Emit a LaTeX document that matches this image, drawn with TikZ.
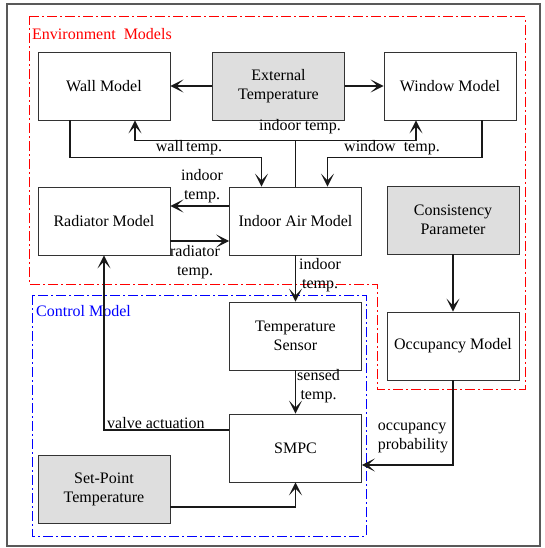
\documentclass[tikz,border=0pt]{standalone}
\usepackage{fontspec}
\setmainfont{Liberation Serif}
\usetikzlibrary{arrows.meta,calc}
\begin{document}
\begin{tikzpicture}[x=1pt,y=-1pt,
  every node/.style={font=\fontsize{16}{19}\selectfont},
  box/.style={draw=black!80, line width=0.9pt, minimum width=132pt, minimum height=68pt, align=center, inner sep=0pt},
  gbox/.style={box, fill=black!13},
  conn/.style={line width=1.1pt, draw=black!90, -{Stealth[length=13pt,width=13pt,inset=7pt]}},
  plain/.style={line width=1.1pt, draw=black!90},
  lbl/.style={align=left, inner sep=0pt},
  dd/.style={line width=1pt, dash pattern=on 10pt off 3pt on 2pt off 3pt}]
\useasboundingbox (0,0) rectangle (544,548);
\draw[black!65, line width=1.4pt] (7,4) rectangle (540,546);
\draw[dd, red] (29,17) -- (525,17) -- (525,389) -- (377,389) -- (377,284) -- (29,284) -- cycle;
\draw[dd, blue] (32,295) rectangle (366,536);
\node[red, anchor=west, inner sep=0pt] (envl) at (32,34) {Environment\ \ Models};
\node[blue, anchor=west, inner sep=0pt] (ctrl) at (36,311) {Control Model};

\node[box]  (wall) at (104,86) {Wall Model};
\node[gbox] (ext)  at (278.5,86) {External\\Temperature};
\node[box]  (win)  at (450,86) {Window Model};
\node[box]  (rad)  at (104,221) {Radiator Model};
\node[box]  (air)  at (295.5,221) {Indoor Air Model};
\node[gbox] (cons) at (453,220) {Consistency\\Parameter};
\node[box]  (sens) at (295.5,336) {Temperature\\Sensor};
\node[box]  (occ)  at (453,346) {Occupancy Model};
\node[box]  (smpc) at (295.5,448) {SMPC};
\node[gbox] (sp)   at (104,489) {Set-Point\\Temperature};

\draw[conn] (ext.west) -- (wall.east);
\draw[conn] (ext.east) -- (win.west);

\coordinate (it) at ($(air.north)+(0,-46)$);
\draw[plain] (air.north) -- (it);
\draw[conn] (it) -| ([xshift=31pt]wall.south);
\draw[conn] (it) -| ([xshift=-34pt]win.south);
\node[lbl] (lit) at (300,127) {indoor temp.};

\draw[conn] ([xshift=-34pt]wall.south) -- ++(0,37) -| ([xshift=-34pt]air.north);
\node[lbl] (lwt) at (189,148) {wall\,temp.};
\draw[conn] ([xshift=32pt]win.south) -- ++(0,37) -| ([xshift=32pt]air.north);
\node[lbl] (lwin) at (392,148) {window\ \ temp.};

\draw[conn] ([yshift=15pt]air.west) -- ([yshift=15pt]rad.east);
\node[lbl, align=center] (lit2) at (202,186) {indoor\\temp.};
\draw[conn] ([yshift=-20pt]rad.east) -- ([yshift=-20pt]air.west);
\node[lbl, align=center] (lrt) at (195,262) {radiator\\temp.};

\draw[conn] (air.south) -- (sens.north);
\node[lbl, anchor=north west, align=center] (lit3) at (299,258) {indoor\\temp.};
\draw[conn] (sens.south) -- (smpc.north);
\node[lbl, anchor=north west, align=center] (lst) at (297,369) {sensed\\temp.};

\draw[conn] ([yshift=18pt]smpc.west) -| (rad.south);
\node[lbl, anchor=west] (lva) at (107,423) {valve actuation};
\draw[conn] ([yshift=-18pt]sp.east) -| (smpc.south);

\draw[conn] (cons.south) -- (occ.north);
\draw[conn] (occ.south) |- ([yshift=-17pt]smpc.east);
\node[lbl, align=left] (lop) at (413,438) {occupancy\\probability};
\end{tikzpicture}
\end{document}
